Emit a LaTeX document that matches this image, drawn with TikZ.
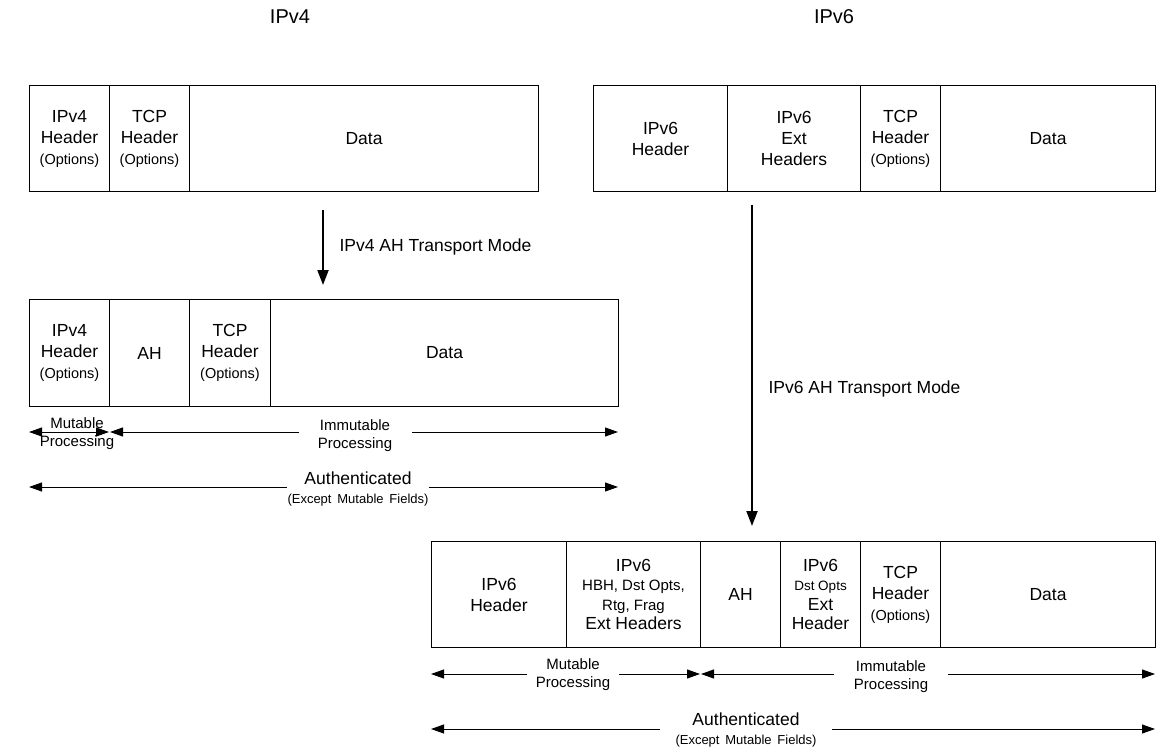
\documentclass[tikz,border=0pt]{standalone}
\usepackage{fontspec}
\setmainfont{Liberation Sans}
\usetikzlibrary{arrows.meta}
\newcommand\szA{\fontsize{17.5}{21}\selectfont}
\newcommand\szAt{\fontsize{17.5}{19.5}\selectfont}
\newcommand\szB{\fontsize{14.5}{21}\selectfont}
\newcommand\szC{\fontsize{15}{18}\selectfont}
\newcommand\szD{\fontsize{13}{18}\selectfont}
\newcommand\szE{\fontsize{15}{19.5}\selectfont}
\newcommand\szDs{\fontsize{13.5}{19.5}\selectfont}
\newcommand\szT{\fontsize{20}{24}\selectfont}
\begin{document}
\begin{tikzpicture}[x=1pt,y=-1pt,
  field/.style={draw, line width=1pt, inner sep=0pt, align=center, anchor=north west, minimum height=106pt, font=\szA},
  span/.style={line width=1pt, {Triangle[length=13pt,width=9pt]}-{Triangle[length=13pt,width=9pt]}},
  modearrow/.style={line width=2pt, -{Triangle[length=15pt,width=11pt]}},
  gaplabel/.style={fill=white, inner sep=0pt, align=center},
  title/.style={font=\szT}]
\useasboundingbox (0,0) rectangle (1175,754);

% titles
\node[title] (t4) at (290,17) {IPv4};
\node[title] (t6) at (834,17) {IPv6};

% IPv4 original
\node[field, minimum width=80pt] (a1) at (29,85) {IPv4\\Header\\{\szB (Options)}};
\node[field, minimum width=80pt] (a2) at (109,85) {TCP\\Header\\{\szB (Options)}};
\node[field, minimum width=349pt] (a3) at (189,85) {Data};

% IPv6 original
\node[field, minimum width=134pt] (b1) at (593,85) {IPv6\\Header};
\node[field, minimum width=133pt] (b2) at (727,85) {IPv6\\Ext\\Headers};
\node[field, minimum width=80pt] (b3) at (860,85) {TCP\\Header\\{\szB (Options)}};
\node[field, minimum width=215pt] (b4) at (940,85) {Data};

% IPv4 transport arrow
\coordinate (v4s) at (323,210);
\coordinate (v4e) at (323,285);
\draw[modearrow] (v4s) -- (v4e);
\node[anchor=west, font=\szA] (v4l) at (336,247) {IPv4 AH Transport Mode};

% IPv4 with AH
\node[field, minimum width=80pt, minimum height=107pt] (c1) at (29,299) {IPv4\\Header\\{\szB (Options)}};
\node[field, minimum width=80pt, minimum height=107pt] (c2) at (109,299) {AH};
\node[field, minimum width=81pt, minimum height=107pt] (c3) at (189,299) {TCP\\Header\\{\szB (Options)}};
\node[field, minimum width=348pt, minimum height=107pt] (c4) at (270,299) {Data};

% IPv4 spans
\coordinate (m4a) at (29,432);
\coordinate (m4b) at (109,432);
\coordinate (i4a) at (110,432);
\coordinate (i4b) at (618,432);
\coordinate (u4a) at (29,487);
\coordinate (u4b) at (618,487);
\draw[span] (m4a) -- (m4b);
\draw[span] (i4a) -- (i4b);
\draw[span] (u4a) -- (u4b);
\node[align=center, inner sep=0pt, font=\szC] (m4l) at (77,434) {Mutable\\Processing};
\node[gaplabel, font=\szC, text width=113pt] (i4l) at (355,436) {Immutable\\Processing};
\node[gaplabel, font=\fontsize{17.5}{19}\selectfont, text width=142pt] (u4l) at (358,489) {Authenticated\\{\szD (Except Mutable Fields)}};

% IPv6 transport arrow
\coordinate (v6s) at (752,205);
\coordinate (v6e) at (752,526);
\draw[modearrow] (v6s) -- (v6e);
\node[anchor=west, font=\szA] (v6l) at (765,389) {IPv6 AH Transport Mode};

% IPv6 with AH
\node[field, minimum width=135pt] (d1) at (431,541) {IPv6\\Header};
\node[field, minimum width=134pt, font=\szAt] (d2) at (566,541) {IPv6\\{\szE HBH, Dst Opts,}\\{\szE Rtg, Frag}\\Ext Headers};
\node[field, minimum width=80pt] (d3) at (700,541) {AH};
\node[field, minimum width=80pt, font=\szAt] (d4) at (780,541) {IPv6\\{\szDs Dst Opts}\\Ext\\Header};
\node[field, minimum width=80pt] (d5) at (860,541) {TCP\\Header\\{\szB (Options)}};
\node[field, minimum width=215pt] (d6) at (940,541) {Data};

% IPv6 spans
\coordinate (m6a) at (431,674);
\coordinate (m6b) at (700,674);
\coordinate (i6a) at (701,674);
\coordinate (i6b) at (1155,674);
\coordinate (u6a) at (431,729);
\coordinate (u6b) at (1155,729);
\draw[span] (m6a) -- (m6b);
\draw[span] (i6a) -- (i6b);
\draw[span] (u6a) -- (u6b);
\node[gaplabel, font=\szC, text width=92pt] (m6l) at (573,675) {Mutable\\Processing};
\node[gaplabel, font=\szC, text width=114pt] (i6l) at (891,677) {Immutable\\Processing};
\node[gaplabel, font=\fontsize{17.5}{19}\selectfont, text width=172pt] (u6l) at (746,730) {Authenticated\\{\szD (Except Mutable Fields)}};
\end{tikzpicture}
\end{document}
